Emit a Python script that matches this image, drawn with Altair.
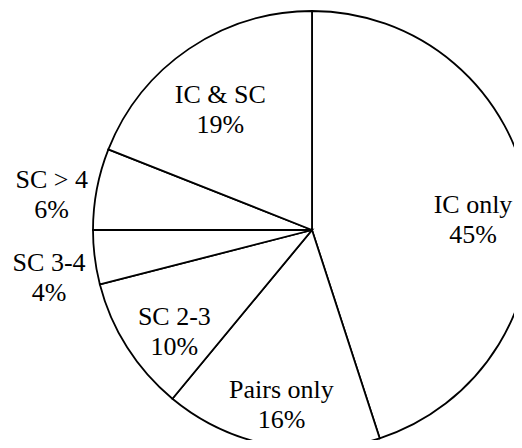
import altair as alt
import pandas as pd
import math

categories = ["IC only", "Pairs only", "SC 2-3", "SC 3-4", "SC > 4", "IC & SC"]
shares = [45, 16, 10, 4, 6, 19]

df = pd.DataFrame({"cat": categories, "share": shares, "idx": list(range(len(categories)))})

theta_scale = alt.Scale(domain=[0, 100], range=[0, 2 * math.pi])

base = alt.Chart(df).transform_window(
    end="sum(share)", sort=[alt.SortField("idx")], frame=[None, 0]
).transform_calculate(
    start="datum.end - datum.share",
    mid="datum.end - datum.share / 2",
)

pie = base.mark_arc(
    outerRadius=219, fill="white", stroke="black", strokeWidth=1.8
).encode(
    theta=alt.Theta("start:Q", scale=theta_scale),
    theta2="end:Q",
    x=alt.value(304),
    y=alt.value(222),
)

labels = base.transform_calculate(
    label="datum.cat + '\\n' + datum.share + '%'",
    r="datum.share < 8 ? 265 : 163",
).mark_text(
    font="Liberation Serif", fontSize=26, lineBreak="\n", lineHeight=30,
    color="black", align="center", baseline="middle",
).encode(
    theta=alt.Theta("mid:Q", scale=theta_scale),
    radius=alt.Radius("r:Q", scale=None),
    text="label:N",
    x=alt.value(304),
    y=alt.value(222),
)

chart = alt.layer(pie, labels).properties(
    width=506, height=432, padding=0,
    autosize=alt.AutoSizeParams(type="none"),
).configure_view(stroke=None)

chart.save("out.html", embed_options={"renderer": "svg", "actions": False})
